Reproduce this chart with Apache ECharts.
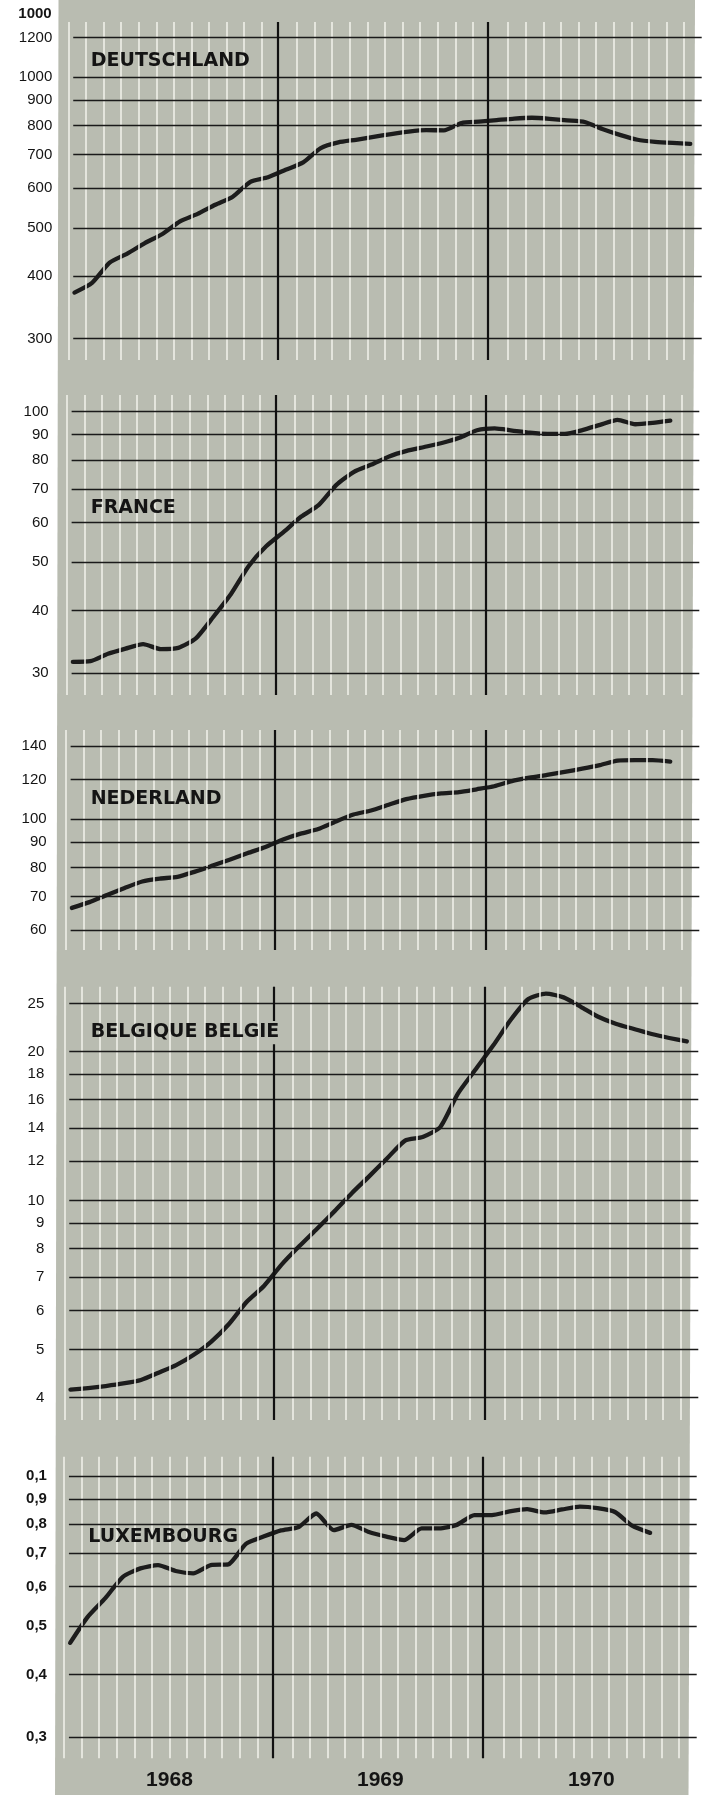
<!DOCTYPE html>
<html><head><meta charset="utf-8">
<script src="https://cdn.jsdelivr.net/npm/echarts@6/dist/echarts.min.js"></script>
<style>html,body{margin:0;padding:0;background:#fff;}#c{width:707px;height:1795px;}</style>
</head><body><div id="c"></div>
<script>
// ---------- data ----------
const years = ['1968', '1969', '1970'];
const unitLabel = '1000';
const panelNames = ['DEUTSCHLAND', 'FRANCE', 'NEDERLAND', 'BELGIQUE BELGIE', 'LUXEMBOURG'];

const deValues = [371, 388, 426, 444, 466, 486, 515, 533, 556, 577, 618, 631, 653, 676, 722, 741, 750, 760, 770, 779, 784, 783, 810, 815, 821, 827, 830, 826, 820, 814, 788, 767, 750, 743, 739, 736];
const frValues = [31.6, 31.7, 32.8, 33.6, 34.3, 33.5, 33.7, 35.2, 38.9, 43.2, 49.1, 53.8, 57.5, 61.7, 65.1, 71.4, 75.8, 78.4, 81.4, 83.5, 85.0, 86.6, 88.7, 91.8, 92.6, 91.7, 90.8, 90.3, 90.3, 91.9, 94.1, 96.3, 94.4, 95.0, 96.0];
const nlValues = [66.4, 68.2, 70.5, 72.8, 75.0, 76.0, 76.6, 78.5, 80.7, 83.0, 85.5, 87.9, 91.0, 93.5, 95.5, 98.9, 102.1, 104.0, 106.8, 109.6, 111.3, 112.5, 113.2, 114.7, 116.3, 119.1, 121.0, 122.6, 124.3, 126.1, 128.2, 130.9, 131.2, 131.2, 130.3];
const beValues = [4.15, 4.18, 4.22, 4.27, 4.34, 4.49, 4.65, 4.88, 5.19, 5.63, 6.24, 6.73, 7.43, 8.09, 8.77, 9.52, 10.37, 11.23, 12.19, 13.22, 13.44, 14.08, 16.45, 18.40, 20.56, 23.18, 25.53, 26.19, 25.73, 24.60, 23.48, 22.73, 22.21, 21.70, 21.30, 20.96];
const luValues = [0.463, 0.522, 0.569, 0.628, 0.653, 0.663, 0.645, 0.638, 0.663, 0.665, 0.731, 0.756, 0.778, 0.790, 0.841, 0.779, 0.798, 0.772, 0.756, 0.744, 0.785, 0.785, 0.798, 0.835, 0.835, 0.849, 0.858, 0.845, 0.857, 0.868, 0.862, 0.847, 0.794, 0.769];

const deTicks = [300, 400, 500, 600, 700, 800, 900, 1000, 1200];
const deTickLabels = ['300', '400', '500', '600', '700', '800', '900', '1000', '1200'];
const frTicks = [30, 40, 50, 60, 70, 80, 90, 100];
const frTickLabels = ['30', '40', '50', '60', '70', '80', '90', '100'];
const nlTicks = [60, 70, 80, 90, 100, 120, 140];
const nlTickLabels = ['60', '70', '80', '90', '100', '120', '140'];
const beTicks = [4, 5, 6, 7, 8, 9, 10, 12, 14, 16, 18, 20, 25];
const beTickLabels = ['4', '5', '6', '7', '8', '9', '10', '12', '14', '16', '18', '20', '25'];
const luTicks = [0.3, 0.4, 0.5, 0.6, 0.7, 0.8, 0.9, 1.0];
const luTickLabels = ['0,3', '0,4', '0,5', '0,6', '0,7', '0,8', '0,9', '0,1'];

// ---------- layout ----------
const X_MAX = 36, OFFSET = 0.35, HSTART = 0.28;
const YEAR_LINES = [11.9, 23.85];
const panels = [
  {name: panelNames[0], values: deValues, ticks: deTicks, labels: deTickLabels, left: 68.3, top: 22, width: 633.4, height: 338, yMin: 272, yMax: 1290, tx: 90.7, ty: 61, gap: 21, bold: false},
  {name: panelNames[1], values: frValues, ticks: frTicks, labels: frTickLabels, left: 66.7, top: 395, width: 632.6, height: 300, yMin: 27.13, yMax: 108.0, tx: 90.7, ty: 507.7, gap: 23, bold: false},
  {name: panelNames[2], values: nlValues, ticks: nlTicks, labels: nlTickLabels, left: 65.7, top: 730, width: 633.6, height: 220, yMin: 54.7, yMax: 150.7, tx: 90.7, ty: 799.3, gap: 24, bold: false},
  {name: panelNames[3], values: beValues, ticks: beTicks, labels: beTickLabels, left: 64.3, top: 986.7, width: 634, height: 433.3, yMin: 3.603, yMax: 27.04, tx: 90.7, ty: 1032.3, gap: 25, bold: false, lineGap: [20.7, 23.05]},
  {name: panelNames[4], values: luValues, ticks: luTicks, labels: luTickLabels, left: 64, top: 1456.7, width: 632.7, height: 301.6, yMin: 0.2718, yMax: 1.093, tx: 88.3, ty: 1536.7, gap: 22, bold: true}
];

const whiteMonths = [];
for (let k = 0; k < X_MAX; k++) { if (k !== 12 && k !== 24) whiteMonths.push(k); }

const FONT = '"Liberation Sans", Arial, sans-serif';
const INK = '#141414';

const grids = [], xAxes = [], yAxes = [], series = [];
const graphics = [
  {type: 'polygon', z: -5, silent: true, shape: {points: [[58.5, 0], [695, 0], [688.5, 1795], [55, 1795]]}, style: {fill: '#b9bcb1'}},
  {type: 'text', z: 50, x: 51.7, y: 14, style: {text: unitLabel, font: 'bold 15px ' + FONT, fill: INK, align: 'right', verticalAlign: 'middle'}}
];

panels.forEach((p, i) => {
  grids.push({left: p.left, top: p.top, width: p.width, height: p.height, containLabel: false});
  xAxes.push({gridIndex: i, type: 'value', min: 0, max: X_MAX, show: false});
  yAxes.push({gridIndex: i, type: 'log', logBase: 10, min: p.yMin, max: p.yMax, show: false});

  // white month lines
  series.push({
    type: 'line', xAxisIndex: i, yAxisIndex: i, data: [], z: 1, silent: true, animation: false,
    markLine: {
      silent: true, animation: false, symbol: ['none', 'none'],
      label: {show: false},
      lineStyle: {color: '#f3f3ec', width: 1.5, type: 'solid'},
      data: whiteMonths.map(m => ({xAxis: m}))
    }
  });

  // black horizontal lines with tick labels + year boundary lines
  const blackData = p.ticks.map((t, j) => [
    {coord: [HSTART, t], name: p.labels[j],
     label: {show: true, position: 'start', distance: p.gap, formatter: '{b}', color: INK,
             fontSize: 15, fontFamily: FONT, fontWeight: p.bold ? 'bold' : 'normal'}},
    {coord: [X_MAX, t]}
  ]);
  YEAR_LINES.forEach((yl, k) => {
    const vstyle = {lineStyle: {width: 2.2, color: '#111'}};
    if (p.lineGap && k === 0) {
      blackData.push([Object.assign({coord: [yl, p.yMax]}, vstyle), {coord: [yl, p.lineGap[1]]}]);
      blackData.push([Object.assign({coord: [yl, p.lineGap[0]]}, vstyle), {coord: [yl, p.yMin]}]);
    } else {
      blackData.push([Object.assign({coord: [yl, p.yMax]}, vstyle), {coord: [yl, p.yMin]}]);
    }
  });
  series.push({
    type: 'line', xAxisIndex: i, yAxisIndex: i, data: [], z: 2, silent: true, animation: false,
    markLine: {
      silent: true, animation: false, symbol: ['none', 'none'],
      label: {show: false},
      lineStyle: {color: '#1a1a1a', width: 1.3, type: 'solid'},
      data: blackData
    }
  });

  // the data line
  series.push({
    type: 'line', name: p.name, xAxisIndex: i, yAxisIndex: i, z: 3, animation: false,
    showSymbol: false, smooth: 0.2,
    lineStyle: {color: '#1c1c1c', width: 4.3, cap: 'round', join: 'round'},
    data: p.values.map((v, j) => [j + OFFSET, v])
  });

  graphics.push({type: 'text', z: 50, x: p.tx, y: p.ty,
    style: {text: p.name, font: 'bold 19px "DejaVu Sans", sans-serif', fill: INK, align: 'left', verticalAlign: 'middle'}});
});

// year labels along the bottom panel
xAxes.push({
  gridIndex: 4, type: 'category', data: years, position: 'bottom', boundaryGap: true,
  axisLine: {show: false}, axisTick: {show: false}, splitLine: {show: false},
  axisLabel: {fontSize: 21, fontWeight: 'bold', fontFamily: FONT, color: INK, margin: 11}
});

const chart = echarts.init(document.getElementById('c'), null, {renderer: 'canvas'});
chart.setOption({
  animation: false,
  backgroundColor: '#ffffff',
  grid: grids,
  xAxis: xAxes,
  yAxis: yAxes,
  series: series,
  graphic: graphics
});
</script>
</body></html>
